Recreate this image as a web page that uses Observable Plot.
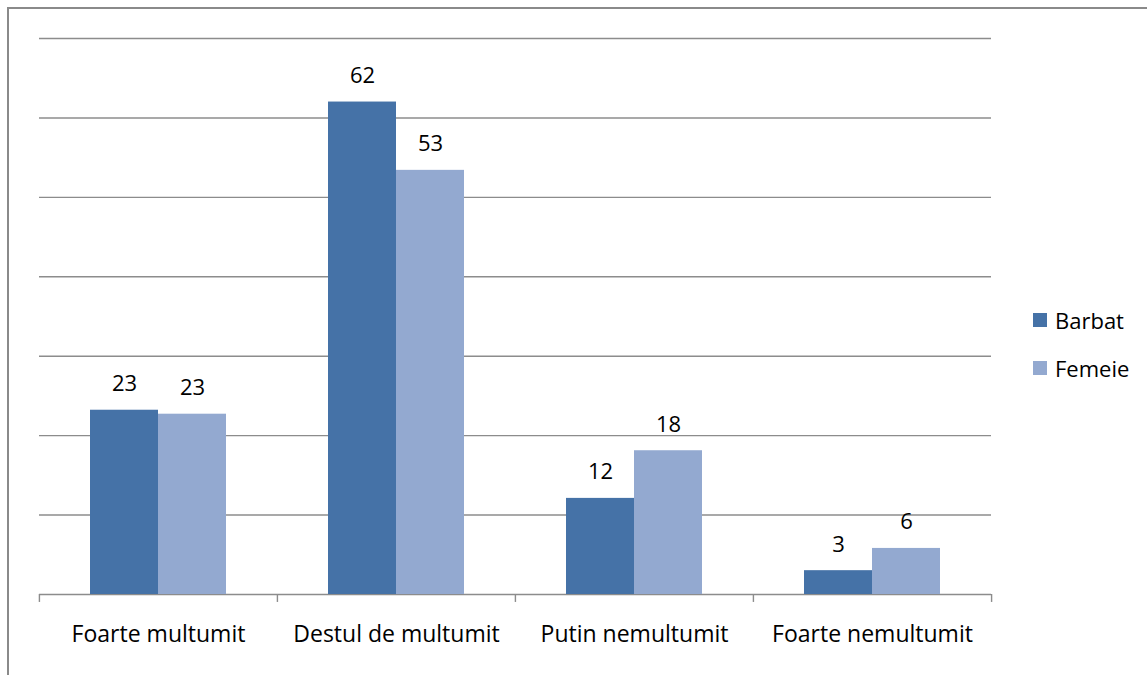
<!DOCTYPE html>
<html>
<head>
<meta charset="utf-8">
<script src="https://cdn.jsdelivr.net/npm/d3@7"></script>
<script src="https://cdn.jsdelivr.net/npm/@observablehq/plot@0.6"></script>
<style>
  html, body { margin: 0; padding: 0; background: #fff; }
  #wrap { position: relative; width: 1147px; height: 675px; overflow: hidden; font-family: "Open Sans", sans-serif; }
  #frame { position: absolute; left: 7px; top: 7px; width: 1200px; height: 720px; border-left: 2px solid #8a8a8a; border-top: 2px solid #8a8a8a; box-sizing: border-box; }
  #chart { position: absolute; left: 0; top: 0; }
  #legend { position: absolute; left: 1033px; top: 306px; font-size: 22px; color: #000; }
  .row { display: flex; align-items: center; height: 28px; line-height: 28px; margin-bottom: 20px; }
  .sw { width: 14px; height: 14px; margin-right: 8px; }
</style>
</head>
<body>
<div id="wrap">
  <div id="frame"></div>
  <div id="chart"></div>
  <div id="legend"></div>
</div>
<script>
const categories = ["Foarte multumit", "Destul de multumit", "Putin nemultumit", "Foarte nemultumit"];
const series = ["Barbat", "Femeie"];
const barbat = [23.2, 62, 12.1, 3];
const femeie = [22.7, 53.4, 18.1, 5.8];
const gridValues = [0, 10, 20, 30, 40, 50, 60, 70];
const colors = ["#4572a7", "#93a9d0"];

const data = [];
categories.forEach((c, i) => {
  data.push({category: c, series: series[0], value: barbat[i]});
  data.push({category: c, series: series[1], value: femeie[i]});
});

const W = 1147, H = 675, mL = 38, mR = 156, mT = 38, mB = 81;
const facetW = (W - mL - mR) / categories.length;
const padOuter = 0.75;
const step = facetW / (series.length + 2 * padOuter);
const fmt = d3.format(".0f");

const plot = Plot.plot({
  width: W,
  height: H,
  marginLeft: mL,
  marginRight: mR,
  marginTop: mT,
  marginBottom: mB,
  style: {fontFamily: "'Open Sans', sans-serif", background: "transparent"},
  fx: {domain: categories, padding: 0, label: null},
  x: {domain: series, paddingInner: 0, paddingOuter: padOuter, axis: null},
  y: {domain: [0, 70], axis: null},
  color: {domain: series, range: colors},
  marks: [
    Plot.ruleY(gridValues, {stroke: "#8c8c8c", strokeWidth: 1.4}),
    Plot.ruleX(categories, {fx: d => d, x: () => series[0], y1: 0, y2: -1, dx: -(0.5 + padOuter) * step, stroke: "#8c8c8c", strokeWidth: 1.4}),
    Plot.ruleX([categories[categories.length - 1]], {fx: d => d, x: () => series[1], y1: 0, y2: -1, dx: (0.5 + padOuter) * step, stroke: "#8c8c8c", strokeWidth: 1.4}),
    Plot.barY(data, {fx: "category", x: "series", y: "value", fill: "series"}),
    Plot.text(data, {fx: "category", x: "series", y: "value", text: d => fmt(d.value), lineAnchor: "bottom", dy: -19, fontSize: 22, fill: "#000"}),
    Plot.axisFx({anchor: "bottom", tickSize: 0, tickPadding: 31, fontSize: 23, fill: "#000", label: null})
  ]
});
document.getElementById("chart").appendChild(plot);

const legend = document.getElementById("legend");
series.forEach((s, i) => {
  const row = document.createElement("div");
  row.className = "row";
  const sw = document.createElement("div");
  sw.className = "sw";
  sw.style.background = colors[i];
  const t = document.createElement("span");
  t.textContent = s;
  row.appendChild(sw);
  row.appendChild(t);
  legend.appendChild(row);
});
</script>
</body>
</html>
